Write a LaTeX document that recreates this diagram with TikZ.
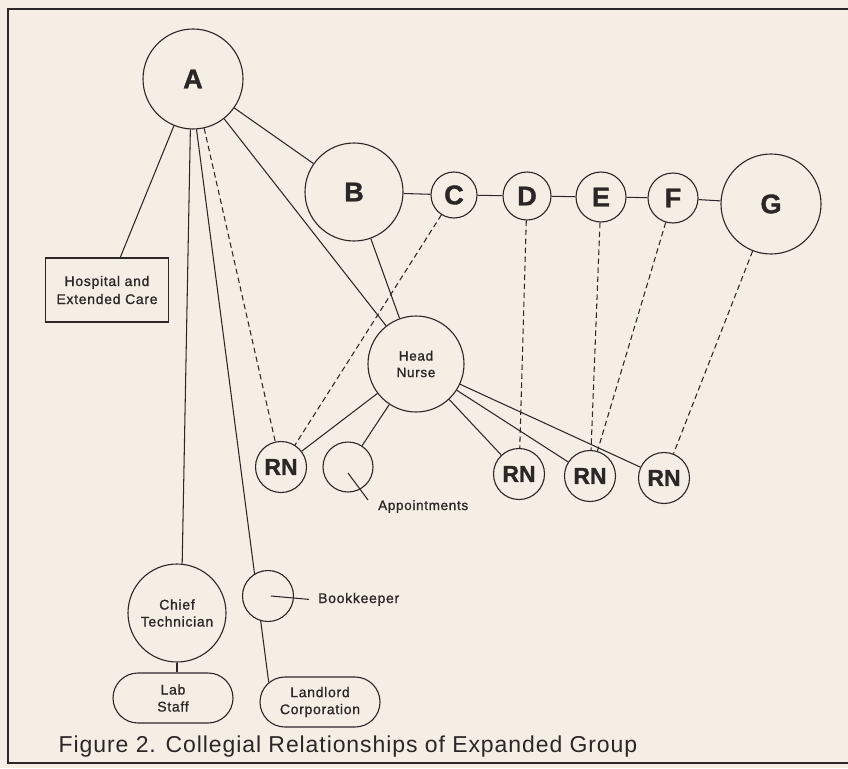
\documentclass[tikz,border=0pt]{standalone}
\usepackage{fontspec}
\setmainfont{Liberation Sans}
\newfontface\tagfont{Liberation Sans}[LetterSpace=5,FakeBold=1.1]
\newfontface\heavyfont{Liberation Sans Bold}[FakeBold=1.4]
\newfontface\capfont{Liberation Sans}[LetterSpace=4]
\usetikzlibrary{shapes.misc}
\definecolor{paper}{HTML}{F4EEE5}
\definecolor{ink}{HTML}{2B2727}
\pgfdeclarelayer{paperlayer}
\pgfdeclarelayer{links}
\pgfsetlayers{paperlayer,links,main}
\tikzset{
  member/.style={circle, draw=ink, fill=paper, line width=1.1pt, inner sep=0pt,
    text=ink, font=\heavyfont\fontsize{27}{27}\selectfont},
  nurse/.style={circle, draw=ink, fill=paper, line width=1.1pt, inner sep=0pt,
    minimum size=51pt, text=ink, font=\heavyfont\fontsize{23}{23}\selectfont},
  role/.style={circle, draw=ink, fill=paper, line width=1.1pt, inner sep=0pt,
    align=center, text=ink, font=\tagfont\fontsize{14}{17}\selectfont},
  unitbox/.style={rectangle, draw=ink, fill=paper, line width=1.1pt, inner sep=0pt,
    minimum width=123pt, minimum height=64pt, align=center, text=ink,
    font=\tagfont\fontsize{14}{18}\selectfont},
  pill/.style={rounded rectangle, draw=ink, fill=paper, line width=1.1pt, inner sep=0pt,
    minimum width=120pt, minimum height=50pt, align=center, text=ink,
    font=\tagfont\fontsize{14}{17}\selectfont},
  tag/.style={inner sep=0pt, text=ink, font=\tagfont\fontsize{14}{16}\selectfont},
  link/.style={draw=ink, line width=1.05pt},
  tie/.style={draw=ink, line width=1.05pt, dash pattern=on 5.5pt off 3.5pt},
}
\begin{document}
\begin{tikzpicture}[x=1pt,y=-1pt]
\useasboundingbox (0,0) rectangle (848,768);
\begin{pgfonlayer}{paperlayer}
  \fill[paper] (0,0) rectangle (848,768);
\end{pgfonlayer}

% frame, open on the right
\draw[ink, line width=1.8pt] (848,9) -- (8,9) -- (8,763) -- (848,763);

% physicians
\node[member, minimum size=100pt] (A) at (193,79) {A};
\node[member, minimum size=98pt]  (B) at (354,192) {B};
\node[member, minimum size=46pt]  (C) at (454,195) {C};
\node[member, minimum size=48pt]  (D) at (527,196) {D};
\node[member, minimum size=50pt]  (E) at (601,197) {E};
\node[member, minimum size=50pt]  (F) at (673,198) {F};
\node[member, minimum size=100pt] (G) at (771,204) {G};

% staff and outside parties
\node[unitbox] (hosp) at (107,290) {Hospital and\\Extended Care};
\node[role, minimum size=96pt, font=\tagfont\fontsize{13.5}{16.5}\selectfont] (hn) at (416,364) {Head\\Nurse};
\node[nurse] (rn1) at (281,467) {RN};
\node[role, minimum size=50pt] (appt) at (348,467) {};
\node[nurse] (rn2) at (519,474) {RN};
\node[nurse] (rn3) at (590,476) {RN};
\node[nurse] (rn4) at (664,478) {RN};
\node[role, minimum size=98pt] (chief) at (177,613) {Chief\\Technician};
\node[role, minimum size=51pt] (bk) at (268,596) {};
\node[pill] (lab) at (173,698) {Lab\\Staff};
\node[pill] (land) at (320,702) {Landlord\\Corporation};

% side labels
\node[tag, anchor=base west, inner xsep=9pt] (bktext) at (309,603) {Bookkeeper};
\node[tag, anchor=base west, font=\tagfont\fontsize{13.5}{16}\selectfont] (appttext) at (378,510) {Appointments};

% caption
\node[anchor=base, inner sep=0pt, text=ink, font=\capfont\fontsize{23}{26}\selectfont] (cap) at (348,752)
  {Figure 2. Collegial Relationships of Expanded Group};

% connections
\begin{pgfonlayer}{links}
  \draw[link] (A) -- (hosp);
  \draw[link] (A.-93) -- (chief.84);
  \draw[link] (A.-86) -- (land.159);
  \draw[link] (A) -- (B);
  \draw[link] (A) -- (hn);
  \draw[tie]  (A) -- (rn1);
  \draw[link] (B) -- (C);
  \draw[link] (C) -- (D);
  \draw[link] (D) -- (E);
  \draw[link] (E) -- (F);
  \draw[link] (F) -- (G);
  \draw[link] (B) -- (hn);
  \draw[tie]  (C) -- (rn1);
  \draw[tie]  (D) -- (rn2);
  \draw[tie]  (E) -- (rn3);
  \draw[tie]  (F) -- (rn3);
  \draw[tie]  (G) -- (rn4);
  \draw[link] (hn) -- (rn1);
  \draw[link] (hn) -- (appt);
  \draw[link] (hn) -- (rn2);
  \draw[link] (hn) -- (rn3);
  \draw[link] (hn) -- (rn4);
  \draw[link] (chief) -- (chief |- lab.north);
\end{pgfonlayer}

% pointers from the small circles to their labels
\coordinate (bkp) at (271,596);
\draw[link] (bkp) -- (bktext.west);
\coordinate (apptp) at (348,473);
\coordinate (apptq) at (368,500);
\draw[link] (apptp) -- (apptq);
\end{tikzpicture}
\end{document}
